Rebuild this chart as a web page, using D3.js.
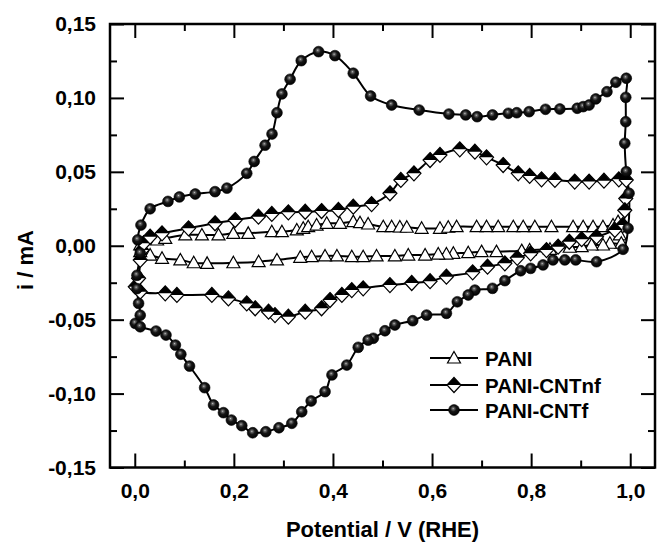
<!DOCTYPE html>
<html>
<head>
<meta charset="utf-8">
<script src="https://cdn.jsdelivr.net/npm/d3@7"></script>
<style>
  body { margin: 0; background: #fff; }
  text { font-family: "Liberation Sans", Arial, sans-serif; font-weight: bold; fill: #000; }
</style>
</head>
<body>
<script>
// Chart size
let width = 658;
let height = 543;

// Data: potential (V) and current (mA), one closed loop per film
const seriesNames = ["PANI", "PANI-CNTnf", "PANI-CNTf"];

const paniE = [0.011, 0.045, 0.0615, 0.102, 0.1355, 0.169, 0.199, 0.229, 0.2766, 0.297, 0.327, 0.340, 0.350, 0.367, 0.3875, 0.414, 0.441, 0.4546, 0.471, 0.5016, 0.5185, 0.535, 0.549, 0.579, 0.616, 0.6327, 0.6496, 0.69, 0.710, 0.7335, 0.764, 0.784, 0.8075, 0.841, 0.8847, 0.905, 0.925, 0.945, 0.9653, 0.9754, 0.979, 0.982,
  0.959, 0.945, 0.922, 0.902, 0.878, 0.838, 0.797, 0.781, 0.730, 0.700, 0.673, 0.643, 0.629, 0.6125, 0.586, 0.552, 0.525, 0.488, 0.461, 0.438, 0.408, 0.384, 0.357, 0.334, 0.287, 0.250, 0.199, 0.146, 0.119, 0.092, 0.055, 0.031, 0.011];
const paniI = [0.0005, 0.0039, 0.005, 0.0073, 0.0073, 0.0073, 0.0084, 0.0084, 0.0095, 0.0095, 0.0107, 0.0118, 0.0129, 0.014, 0.0152, 0.0152, 0.0163, 0.0156, 0.0147, 0.0129, 0.0129, 0.0127, 0.0125, 0.0118, 0.0118, 0.0125, 0.0129, 0.0129, 0.0129, 0.0129, 0.0129, 0.0129, 0.0129, 0.0129, 0.0129, 0.0129, 0.0129, 0.0129, 0.014, 0.0163, 0.0073, 0.0017,
  0.0017, 0.0005, 0.0005, -0.0006, -0.001, -0.0024, -0.0029, -0.0033, -0.004, -0.004, -0.0047, -0.0051, -0.0056, -0.0056, -0.0063, -0.0063, -0.0069, -0.0069, -0.0074, -0.0074, -0.0069, -0.0069, -0.0074, -0.0078, -0.0096, -0.0108, -0.0115, -0.0119, -0.0115, -0.0096, -0.0085, -0.0063, -0.004];

const cntnfE = [0.001, 0.0077, 0.011, 0.0145, 0.018, 0.031, 0.055, 0.1085, 0.162, 0.2026, 0.2496, 0.2766, 0.310, 0.344, 0.377, 0.411, 0.441, 0.478, 0.515, 0.537, 0.5635, 0.596, 0.616, 0.656, 0.6865, 0.710, 0.7435, 0.774, 0.797, 0.821, 0.848, 0.888, 0.917, 0.947, 0.977, 0.992, 0.991, 0.989, 0.985,
  0.969, 0.932, 0.902, 0.877, 0.8545, 0.831, 0.799, 0.772, 0.747, 0.712, 0.682, 0.629, 0.596, 0.559, 0.515, 0.461, 0.438, 0.418, 0.394, 0.377, 0.344, 0.310, 0.283, 0.27, 0.243, 0.226, 0.189, 0.1556, 0.085, 0.0615, 0.011];
const cntnfI = [-0.0277, -0.022, -0.0096, -0.0029, 0.0017, 0.0061, 0.0084, 0.0118, 0.0152, 0.0174, 0.0197, 0.0215, 0.0226, 0.023, 0.0235, 0.0242, 0.0264, 0.0282, 0.0355, 0.0445, 0.049, 0.058, 0.0614, 0.0652, 0.0636, 0.0598, 0.0546, 0.049, 0.0472, 0.0449, 0.0445, 0.0434, 0.0434, 0.044, 0.0449, 0.0445, 0.032, 0.024, 0.014,
  0.0107, 0.0061, 0.0044, 0.0027, -0.0006, -0.0029, -0.0051, -0.0082, -0.0119, -0.0142, -0.018, -0.0209, -0.024, -0.0252, -0.0266, -0.0288, -0.030, -0.0333, -0.0367, -0.0423, -0.0446, -0.048, -0.0469, -0.0446, -0.0423, -0.039, -0.0356, -0.0333, -0.0333, -0.0322, -0.0311];

const cntfE = [0.001, 0.011, 0.0077, 0.0044, 0.0044, 0.011, 0.006, 0.0125, 0.031, 0.067, 0.090, 0.122, 0.162, 0.186, 0.226, 0.241, 0.263, 0.277, 0.287, 0.297, 0.3135, 0.336, 0.371, 0.404, 0.441, 0.476, 0.5185, 0.574, 0.634, 0.668, 0.691, 0.722, 0.754, 0.771, 0.796, 0.829, 0.858, 0.893, 0.905, 0.917, 0.9305, 0.953, 0.971, 0.992,
  0.991, 0.991, 0.989, 0.992, 0.9976, 0.9956, 0.9855, 0.932, 0.890, 0.868, 0.844, 0.824, 0.799, 0.779, 0.747, 0.722, 0.6865, 0.673, 0.651, 0.629, 0.589, 0.561, 0.525, 0.505, 0.4815, 0.471, 0.451, 0.428, 0.398, 0.384, 0.356, 0.337, 0.317, 0.291, 0.2645, 0.238, 0.216, 0.195, 0.179, 0.159, 0.141, 0.1105, 0.093, 0.082, 0.063, 0.043, 0.011];
const cntfI = [-0.0525, -0.047, -0.039, -0.029, -0.020, -0.005, 0.004, 0.014, 0.025, 0.030, 0.033, 0.035, 0.0366, 0.039, 0.049, 0.057, 0.068, 0.0756, 0.090, 0.1027, 0.1126, 0.1252, 0.1313, 0.1286, 0.1167, 0.1013, 0.0952, 0.0918, 0.0891, 0.0885, 0.0873, 0.0885, 0.0896, 0.090, 0.0907, 0.0923, 0.0925, 0.093, 0.0941, 0.0952, 0.0993, 0.1042, 0.1106, 0.1133,
  0.1004, 0.0839, 0.0693, 0.0501, 0.0355, 0.0118, -0.0024, -0.0108, -0.0096, -0.0096, -0.0096, -0.013, -0.0153, -0.0169, -0.0236, -0.0288, -0.030, -0.0333, -0.0379, -0.0457, -0.0469, -0.0507, -0.0536, -0.0575, -0.0626, -0.0638, -0.0687, -0.0807, -0.0874, -0.0987, -0.105, -0.1123, -0.1201, -0.1231, -0.1258, -0.1265, -0.1217, -0.1179, -0.1129, -0.1077, -0.096, -0.0814, -0.0734, -0.0672, -0.0604, -0.0577, -0.0548];

// Ticks
const xTicks = [0, 0.2, 0.4, 0.6, 0.8, 1.0];
const xMinor = [0.1, 0.3, 0.5, 0.7, 0.9];
const yTicks = [-0.15, -0.10, -0.05, 0, 0.05, 0.10, 0.15];
const yMinor = [-0.125, -0.075, -0.025, 0.025, 0.075, 0.125];

const xLabel = "Potential / V (RHE)";
const yLabel = "i / mA";

let svg = d3.select("body")
  .append("svg")
  .attr("width", width)
  .attr("height", height);

// sphere shading for the PANI-CNTf markers
let defs = svg.append("defs");
let grad = defs.append("radialGradient")
  .attr("id", "ball")
  .attr("cx", "0.45").attr("cy", "0.42").attr("r", "0.6")
  .attr("fx", "0.42").attr("fy", "0.36");
grad.append("stop").attr("offset", "0%").attr("stop-color", "#c8c8c8");
grad.append("stop").attr("offset", "14%").attr("stop-color", "#6a6a6a");
grad.append("stop").attr("offset", "45%").attr("stop-color", "#161616");
grad.append("stop").attr("offset", "100%").attr("stop-color", "#000");

const plot = {left: 110, top: 24, right: 655, bottom: 467.5};

const x = d3.scaleLinear().domain([-0.05, 1.05]).range([plot.left, plot.right]);
const y = d3.scaleLinear().domain([-0.15, 0.15]).range([plot.bottom, plot.top]);

const comma = (f) => (d => d3.format(f)(d).replace("−", "-").replace(".", ","));

// Axes, ticks pointing inward
function styleAxis(g) {
  g.select(".domain").remove();
  g.selectAll(".tick line").attr("stroke", "#000").attr("stroke-width", 2);
  g.selectAll(".tick text").attr("font-size", 21).attr("font-family", null);
}

svg.append("g")
  .attr("transform", `translate(0,${plot.bottom})`)
  .call(d3.axisBottom(x).tickValues(xTicks).tickSize(-14).tickPadding(16).tickFormat(comma(".1f")))
  .call(styleAxis);
svg.append("g")
  .attr("transform", `translate(0,${plot.bottom})`)
  .call(d3.axisBottom(x).tickValues(xMinor).tickSize(-7).tickFormat(""))
  .call(styleAxis);
svg.append("g")
  .attr("transform", `translate(0,${plot.top})`)
  .call(d3.axisTop(x).tickValues(xTicks).tickSize(-14).tickFormat(""))
  .call(styleAxis);
svg.append("g")
  .attr("transform", `translate(0,${plot.top})`)
  .call(d3.axisTop(x).tickValues(xMinor).tickSize(-7).tickFormat(""))
  .call(styleAxis);

svg.append("g")
  .attr("transform", `translate(${plot.left},0)`)
  .call(d3.axisLeft(y).tickValues(yTicks).tickSize(-14).tickPadding(14).tickFormat(comma(".2f")))
  .call(styleAxis);
svg.append("g")
  .attr("transform", `translate(${plot.left},0)`)
  .call(d3.axisLeft(y).tickValues(yMinor).tickSize(-7).tickFormat(""))
  .call(styleAxis);
svg.append("g")
  .attr("transform", `translate(${plot.right},0)`)
  .call(d3.axisRight(y).tickValues(yTicks).tickSize(-14).tickFormat(""))
  .call(styleAxis);
svg.append("g")
  .attr("transform", `translate(${plot.right},0)`)
  .call(d3.axisRight(y).tickValues(yMinor).tickSize(-7).tickFormat(""))
  .call(styleAxis);

// frame
svg.append("rect")
  .attr("x", plot.left).attr("y", plot.top)
  .attr("width", plot.right - plot.left)
  .attr("height", plot.bottom - plot.top)
  .attr("fill", "none")
  .attr("stroke", "#000")
  .attr("stroke-width", 2.5);

// Axis titles
svg.append("text")
  .attr("x", (plot.left + plot.right) / 2)
  .attr("y", 537)
  .attr("text-anchor", "middle")
  .attr("font-size", 22)
  .text(xLabel);

svg.append("text")
  .attr("transform", "translate(33,260) rotate(-90)")
  .attr("text-anchor", "middle")
  .attr("font-size", 22)
  .text(yLabel);

// Marker drawing
const triPath = "M0,-6.5L6.5,5L-6.5,5Z";
const diaPath = "M0,-7.5L7,0L0,7.5L-7,0Z";
const diaTop = "M-7,0L0,-7.5L7,0Z";

function drawMarker(g, kind) {
  if (kind === 0) {
    g.append("path").attr("d", triPath).attr("fill", "#fff").attr("stroke", "#000").attr("stroke-width", 1.2);
  } else if (kind === 1) {
    g.append("path").attr("d", diaPath).attr("fill", "#fff").attr("stroke", "#000").attr("stroke-width", 1.2);
    g.append("path").attr("d", diaTop).attr("fill", "#000");
  } else {
    g.append("circle").attr("r", 5.4).attr("fill", "url(#ball)").attr("stroke", "#000").attr("stroke-width", 0.6);
  }
}

const line = d3.line()
  .x(d => x(d[0]))
  .y(d => y(d[1]))
  .curve(d3.curveCatmullRomClosed.alpha(0.5));

const series = [
  d3.zip(paniE, paniI),
  d3.zip(cntnfE, cntnfI),
  d3.zip(cntfE, cntfI)
];

series.forEach((pts, k) => {
  svg.append("path")
    .datum(pts)
    .attr("d", line)
    .attr("fill", "none")
    .attr("stroke", "#000")
    .attr("stroke-width", 2);
});

series.forEach((pts, k) => {
  svg.append("g")
    .selectAll("g")
    .data(pts)
    .enter().append("g")
    .attr("transform", d => `translate(${x(d[0])},${y(d[1])})`)
    .each(function() { drawMarker(d3.select(this), k); });
});

// Legend
const legendRows = [358, 385, 410];
seriesNames.forEach((name, k) => {
  let g = svg.append("g").attr("transform", `translate(0,${legendRows[k]})`);
  g.append("line")
    .attr("x1", 430).attr("x2", 478)
    .attr("stroke", "#000").attr("stroke-width", 2);
  let m = g.append("g").attr("transform", "translate(454,0)");
  drawMarker(m, k);
  g.append("text")
    .attr("x", 485).attr("y", 7.5)
    .attr("font-size", 20.5)
    .text(name);
});
</script>
</body>
</html>
